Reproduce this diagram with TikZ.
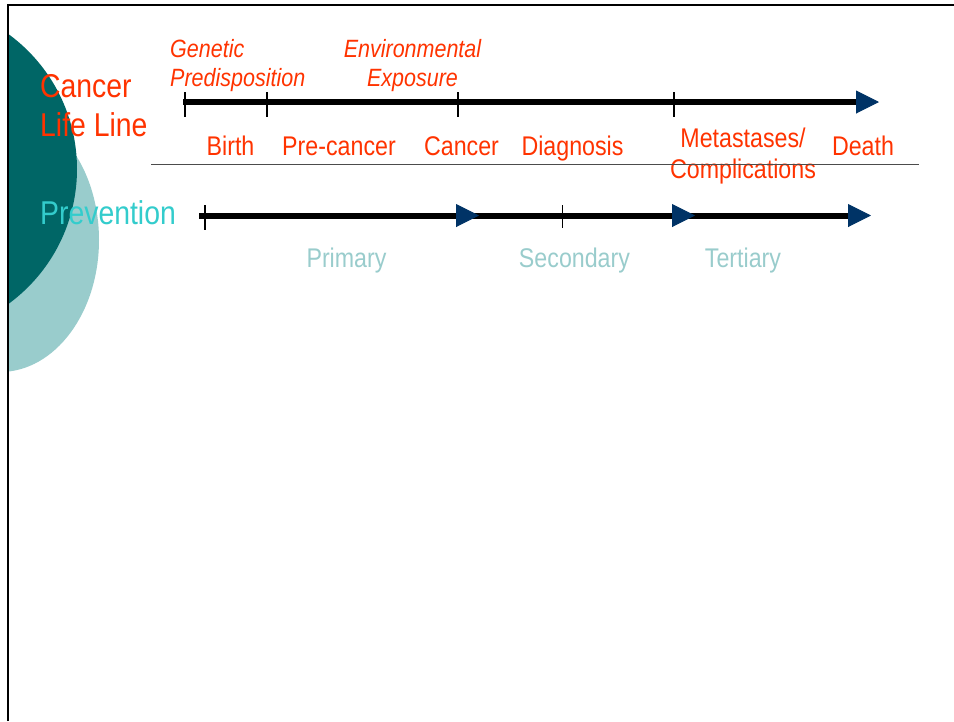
\documentclass[tikz,border=0pt]{standalone}
\usepackage{xcolor}
\usepackage{fontspec}
\setmainfont[FakeStretch=0.86]{Liberation Sans}
\usepackage{tikz}
\usetikzlibrary{arrows.meta, positioning}
\definecolor{lifered}{RGB}{255,51,0}
\definecolor{prevcyan}{RGB}{51,204,204}
\definecolor{paleteal}{RGB}{153,204,204}
\definecolor{deepteal}{RGB}{0,102,102}
\definecolor{tipnavy}{RGB}{0,51,102}

\begin{document}
\begin{tikzpicture}[x=1pt, y=-1pt, every node/.style={inner sep=0pt},
	timeline/.style={line width=6pt, -{Triangle[length=23pt, width=23pt, line width=1pt, color=tipnavy]}},
	tick/.style={line width=2.5pt},
	stage/.style={anchor=base, lifered, font=\fontsize{27}{31}\selectfont, align=center},
	level/.style={anchor=base, paleteal, font=\fontsize{27}{31}\selectfont}]
			\useasboundingbox (0,0) rectangle (954,721);
			%% discs on the left edge
			\begin{scope}
			\clip (8,5) rectangle (954,721);
			\fill[paleteal] (0,240) ellipse [x radius=99, y radius=132];
			\fill[deepteal] (-90,169) circle [radius=167];
			\end{scope}
			\draw[line width=2pt] (8,721) -- (8,5) -- (954,5);
			
			%% the base of a two line node is its last line
			\node[anchor=base west, lifered, font=\fontsize{33}{39}\selectfont, align=left] (lifeline) at (40,136) {Cancer\\Life Line};
			\node[anchor=base west, prevcyan, font=\fontsize{33}{38}\selectfont] (prevention) at (40,224) {Prevention};
			\node[anchor=base west, lifered, font=\fontsize{25}{29}\selectfont\itshape, align=left] (genetic) at (170,86) {Genetic\\Predisposition};
			\node[anchor=base, lifered, font=\fontsize{25}{29}\selectfont\itshape, align=center] (exposure) at (412.5,86) {Environmental\\Exposure};
			
			%% cancer life line
			\coordinate (life start) at (183,102);
			\coordinate (life end) at (879,102);
			\draw[timeline] (life start) -- (life end);
			\draw[tick] (185,92) -- (185,117);
			\draw[tick] (267,92) -- (267,117);
			\draw[tick] (458,92) -- (458,117);
			\draw[tick] (674,92) -- (674,117);
			
			\node[stage] (birth) at (230.5,155) {Birth};
			\node[stage] (precancer) at (339,155) {Pre-cancer};
			\node[stage] (cancer) at (461.5,155) {Cancer};
			\node[stage] (diagnosis) at (572.5,155) {Diagnosis};
			\node[stage] (metastases) at (743,178) {Metastases/\\Complications};
			\node[stage] (death) at (863,155) {Death};
			\draw[black!70, line width=1pt] (151,164) -- (919,164);
			
			%% prevention line, drawn back to front
			\coordinate (prev start) at (199,215.5);
			\coordinate (primary end) at (479,215.5);
			\coordinate (secondary start) at (460,215.5);
			\coordinate (secondary end) at (695,215.5);
			\coordinate (tertiary start) at (675,215.5);
			\coordinate (tertiary end) at (871,215.5);
			\draw[timeline] (tertiary start) -- (tertiary end);
			\draw[timeline] (secondary start) -- (secondary end);
			\draw[timeline] (prev start) -- (primary end);
			\draw[line width=2pt] (205,205) -- (205,230);
			\draw[line width=1pt] (562,205) -- (562,228);
			
			\node[level] (primary) at (346.5,267) {Primary};
			\node[level] (secondary) at (574.5,267) {Secondary};
			\node[level] (tertiary) at (743,267) {Tertiary};
\end{tikzpicture}
\end{document}
